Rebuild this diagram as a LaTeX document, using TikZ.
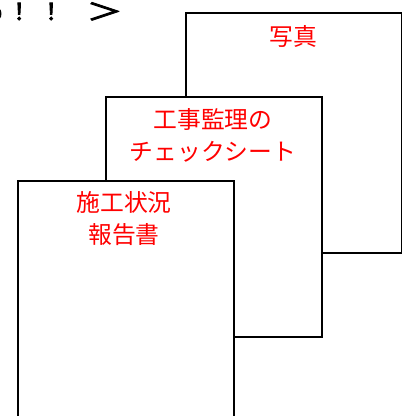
\documentclass[tikz,border=0pt]{standalone}
\usepackage{graphicx}
\usepackage{fontspec}
\newfontfamily\cjk{Noto Sans CJK JP}
\newfontfamily\cjkfb[FakeBold=4]{Noto Sans CJK JP}
\begin{document}
\begin{tikzpicture}[x=1pt,y=-1pt,
  sheet/.style={draw=black,line width=2pt,fill=white},
  redtxt/.style={text=red,font=\cjk\fontsize{23.8}{32}\selectfont,align=center,inner sep=0pt}]
\useasboundingbox (0,0) rectangle (402,416);
\clip (0,0) rectangle (402,416);
\node[anchor=base west,inner sep=0pt,font=\cjkfb\fontsize{23}{26}\selectfont] (toptext) at (0,20)
  {\rlap{\hspace{2pt}\makebox[0pt][r]{o}}\rlap{\hspace{19pt}\makebox[0pt]{！}}\rlap{\hspace{51pt}\makebox[0pt]{！}}\hspace{104.5pt}\makebox[0pt]{\scalebox{1.55}[1]{＞}}};
\node[sheet,minimum width=216,minimum height=240,anchor=north west] (s1) at (185,12) {};
\node[redtxt] (t1) at (293,36) {写真};
\node[sheet,minimum width=216,minimum height=240,anchor=north west] (s2) at (105,96) {};
\node[redtxt] (t2) at (213,135) {工事監理の\\チェックシート};
\node[sheet,minimum width=216,minimum height=260,anchor=north west] (s3) at (17,180) {};
\node[redtxt] (t3) at (124,219) {施工状況\\報告書};
\end{tikzpicture}
\end{document}
